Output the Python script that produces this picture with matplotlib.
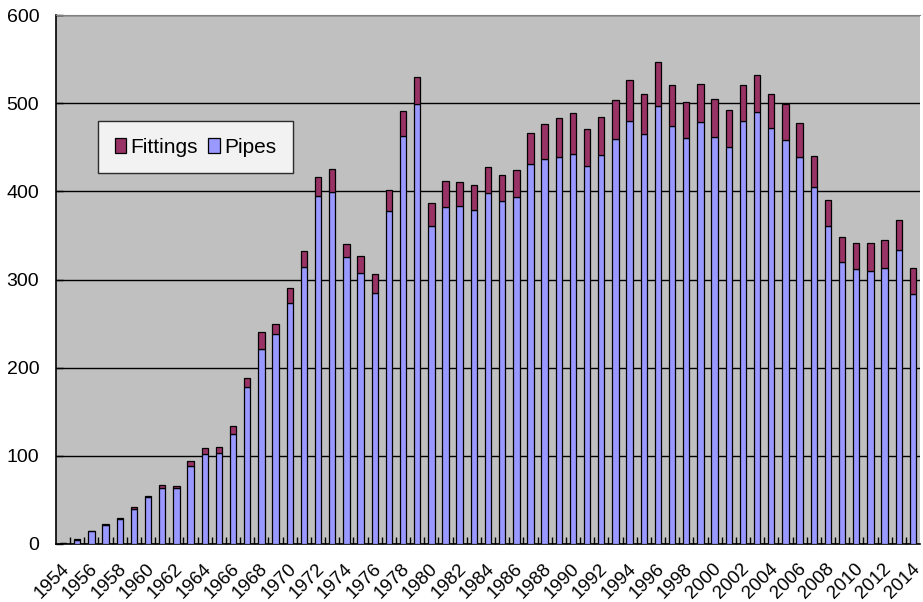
import matplotlib
matplotlib.use("Agg")
import matplotlib.pyplot as plt
import matplotlib.transforms as mtransforms
import numpy as np

years = list(range(1954, 2015))
totals = [1.5, 5.3, 15, 23, 29.8, 41.6, 55, 67, 66, 94, 108.5, 110, 134,
          188.6, 240.8, 249.5, 290.4, 332.7, 416.6, 425.7, 339.9, 326.6, 306.2,
          401.5, 491.5, 530, 386.4, 412.1, 410.2, 407.2, 427.9, 418.1, 423.8,
          465.8, 476.4, 483.2, 489.2, 470.3, 484, 503.9, 525.9, 510.7, 547,
          520.2, 501, 521.4, 505, 491.9, 520.3, 532, 510.7, 498.7, 477.5,
          440.4, 390.5, 348.5, 341.7, 341.7, 344.4, 367.5, 312.7]
pipes = [1.2, 5, 14.5, 22, 28.7, 39.7, 53.6, 64, 63, 88.5, 102, 103, 125,
         177.7, 220.8, 238.2, 273.3, 313.8, 394.7, 398.9, 325.5, 307.7, 284.3,
         377.7, 462.7, 499, 360.7, 382.6, 383.7, 378.5, 397.8, 389, 393.2,
         430.6, 436.3, 438.9, 442.7, 428.4, 441.5, 459.3, 479.8, 465, 497.1,
         474.1, 460.5, 478.6, 461.3, 450.6, 479.8, 490.3, 471.5, 458.6, 438.6,
         404.6, 360.3, 319.8, 311.9, 309.6, 312.7, 333.1, 283.5]
fittings = [t - p for t, p in zip(totals, pipes)]
yticks = [0, 100, 200, 300, 400, 500, 600]

plt.rcParams['font.family'] = ['Liberation Sans', 'DejaVu Sans']

fig = plt.figure(figsize=(9.23, 6.02), dpi=100)
ax = fig.add_axes([56/923, 58/602, 864/923, 529/602])
ax.set_facecolor('#C0C0C0')
ax.set_axisbelow(True)
ax.yaxis.grid(True, color='black', linewidth=1.0)

x = np.arange(len(years))
w = 0.45
ax.bar(x, pipes, width=w, color='#9999FF', edgecolor='black', linewidth=0.9,
       label='Pipes', zorder=3)
ax.bar(x, fittings, width=w, bottom=pipes, color='#993366', edgecolor='black',
       linewidth=0.9, label='Fittings', zorder=3)

ax.set_xlim(-0.5, len(years) - 0.5)
ax.set_ylim(0, 600)
ax.set_yticks(yticks)
ax.set_yticklabels([str(v) for v in yticks], fontsize=14)

# x tick labels (every other year), drawn as rotated text anchored at the axis
ax.set_xticks([])
ax.set_xticks(x[:-1] + 0.5, minor=True)
label_trans = ax.get_xaxis_transform() + mtransforms.ScaledTranslation(
    -0.02, -0.16, fig.dpi_scale_trans)
for xi, yr in zip(x[::2], years[::2]):
    ax.text(xi, 0, str(yr), transform=label_trans, rotation=45, ha='right',
            va='top', rotation_mode='anchor', fontsize=13.5, clip_on=False)

ax.tick_params(axis='x', which='minor', direction='in', length=5, width=1)
ax.tick_params(axis='y', direction='in', length=5, width=1, pad=12)

ax.spines['left'].set_color('black')
ax.spines['bottom'].set_color('black')
ax.spines['left'].set_linewidth(1.2)
ax.spines['bottom'].set_linewidth(1.2)
ax.spines['top'].set_color('#808080')
ax.spines['right'].set_visible(False)

handles, labels = ax.get_legend_handles_labels()
leg = ax.legend(handles[::-1], labels[::-1], loc='upper left',
                bbox_to_anchor=(42/864, (544-121)/529), ncol=2,
                prop={'size': 15},
                frameon=True, fancybox=False, edgecolor='black',
                handlelength=0.55, handleheight=0.75, handletextpad=0.2,
                columnspacing=0.5, borderpad=0.8, borderaxespad=0)
leg.get_frame().set_linewidth(1.0)
leg.set_zorder(5)

fig.savefig('out.png', dpi=100, facecolor='white')
